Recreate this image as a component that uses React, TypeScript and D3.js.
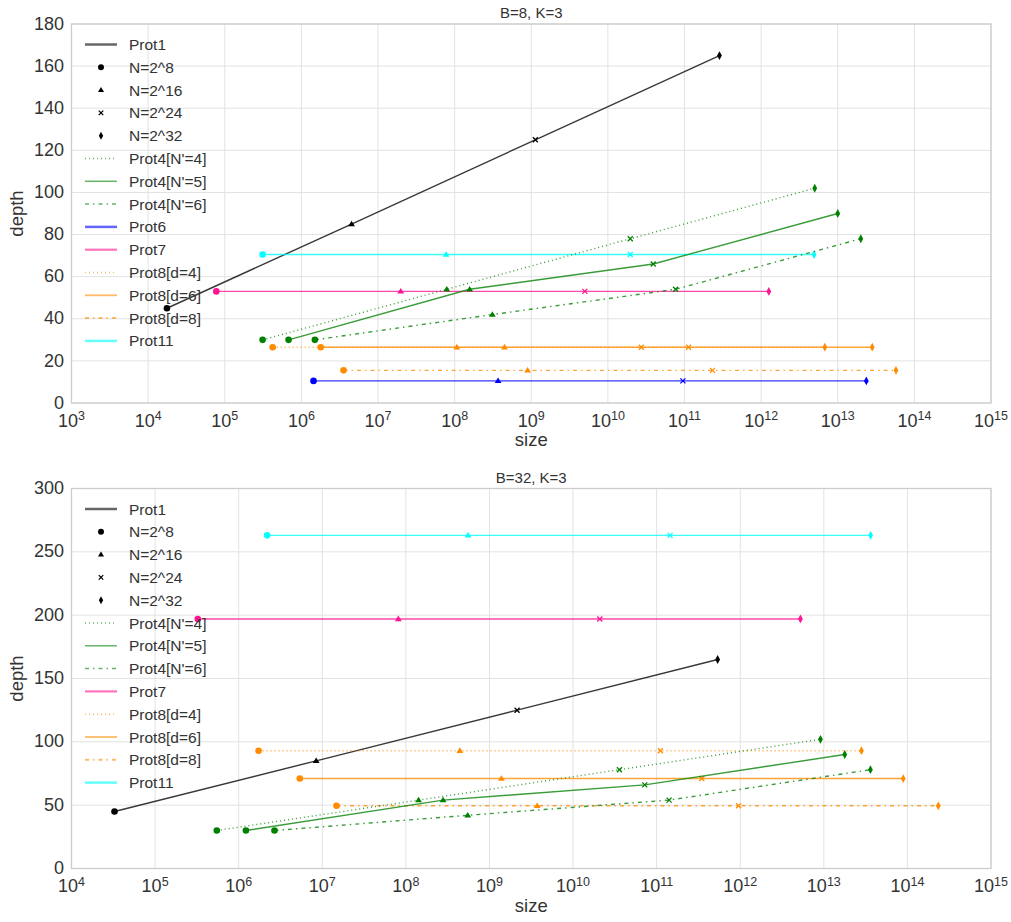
import React from 'react';
import * as d3 from 'd3';

const FONT = '"Liberation Sans", Arial, Helvetica, sans-serif';
const TEXT = '#333333';

// ---- B=8, K=3 ----
const b8Prot1Size = [1.76e4, 4.52e6, 1.13e9, 2.86e11];
const b8Prot1Depth = [45, 85, 125, 165];
const b8Prot4n4Size = [3.12e5, 7.89e7, 1.96e10, 5.01e12];
const b8Prot4n4Depth = [30, 54, 78, 102];
const b8Prot4n5Size = [6.81e5, 1.57e8, 3.91e10, 1.0e13];
const b8Prot4n5Depth = [30, 54, 66, 90];
const b8Prot4n6Size = [1.5e6, 3.11e8, 7.64e10, 2.0e13];
const b8Prot4n6Depth = [30, 42, 54, 78];
const b8Prot6Size = [1.44e6, 3.69e8, 9.53e10, 2.36e13];
const b8Prot6Depth = [10.5, 10.5, 10.5, 10.5];
const b8Prot7Size = [7.76e4, 1.98e7, 5.01e9, 1.26e12];
const b8Prot7Depth = [53, 53, 53, 53];
const b8Prot8d4Size = [4.22e5, 1.07e8, 2.73e10, 6.78e12];
const b8Prot8d4Depth = [26.5, 26.5, 26.5, 26.5];
const b8Prot8d6Size = [1.79e6, 4.48e8, 1.13e11, 2.82e13];
const b8Prot8d6Depth = [26.5, 26.5, 26.5, 26.5];
const b8Prot8d8Size = [3.55e6, 8.97e8, 2.32e11, 5.75e13];
const b8Prot8d8Depth = [15.5, 15.5, 15.5, 15.5];
const b8Prot11Size = [3.12e5, 7.74e7, 1.96e10, 4.9e12];
const b8Prot11Depth = [70.5, 70.5, 70.5, 70.5];

// ---- B=32, K=3 ----
const b32Prot1Size = [3.27e4, 8.45e6, 2.14e9, 5.37e11];
const b32Prot1Depth = [45, 85, 125, 165];
const b32Prot4n4Size = [5.47e5, 1.42e8, 3.59e10, 9.12e12];
const b32Prot4n4Depth = [30, 54, 78, 102];
const b32Prot4n5Size = [1.22e6, 2.79e8, 7.21e10, 1.78e13];
const b32Prot4n5Depth = [30, 54, 66, 90];
const b32Prot4n6Size = [2.68e6, 5.5e8, 1.41e11, 3.61e13];
const b32Prot4n6Depth = [30, 42, 54, 78];
const b32Prot7Size = [3.24e5, 8.13e7, 2.09e10, 5.25e12];
const b32Prot7Depth = [197, 197, 197, 197];
const b32Prot8d4Size = [1.73e6, 4.42e8, 1.11e11, 2.82e13];
const b32Prot8d4Depth = [93, 93, 93, 93];
const b32Prot8d6Size = [5.38e6, 1.39e9, 3.47e11, 8.91e13];
const b32Prot8d6Depth = [71, 71, 71, 71];
const b32Prot8d8Size = [1.48e7, 3.72e9, 9.55e11, 2.34e14];
const b32Prot8d8Depth = [49.5, 49.5, 49.5, 49.5];
const b32Prot11Size = [2.19e6, 5.55e8, 1.45e11, 3.63e13];
const b32Prot11Depth = [263, 263, 263, 263];

// ticks
const b8YTicks = [0, 20, 40, 60, 80, 100, 120, 140, 160, 180];
const b8XExps = [3, 4, 5, 6, 7, 8, 9, 10, 11, 12, 13, 14, 15];
const b32YTicks = [0, 50, 100, 150, 200, 250, 300];
const b32XExps = [4, 5, 6, 7, 8, 9, 10, 11, 12, 13, 14, 15];

const markerKinds = ['circle', 'triangle', 'x', 'diamond'];
const markerLabels = ['N=2^8', 'N=2^16', 'N=2^24', 'N=2^32'];

const DOT = '1,3';
const DASHDOT = '4,4,1.5,4';

const styles: Record<string, any> = {
  prot1: { label: 'Prot1', color: '#000000', dash: null, lw: 2.5 },
  prot4n4: { label: "Prot4[N'=4]", color: '#008000', dash: DOT, lw: 1.5 },
  prot4n5: { label: "Prot4[N'=5]", color: '#008000', dash: null, lw: 1.5 },
  prot4n6: { label: "Prot4[N'=6]", color: '#008000', dash: DASHDOT, lw: 1.5 },
  prot6: { label: 'Prot6', color: '#0000ff', dash: null, lw: 2.5 },
  prot7: { label: 'Prot7', color: '#ff1493', dash: null, lw: 2.2 },
  prot8d4: { label: 'Prot8[d=4]', color: '#ff8c00', dash: DOT, lw: 1.5 },
  prot8d6: { label: 'Prot8[d=6]', color: '#ff8c00', dash: null, lw: 1.8 },
  prot8d8: { label: 'Prot8[d=8]', color: '#ff8c00', dash: DASHDOT, lw: 2 },
  prot11: { label: 'Prot11', color: '#00ffff', dash: null, lw: 2.5 },
};

const b8Series = [
  { key: 'prot1', size: b8Prot1Size, depth: b8Prot1Depth },
  { key: 'prot11', size: b8Prot11Size, depth: b8Prot11Depth },
  { key: 'prot7', size: b8Prot7Size, depth: b8Prot7Depth },
  { key: 'prot4n4', size: b8Prot4n4Size, depth: b8Prot4n4Depth },
  { key: 'prot4n5', size: b8Prot4n5Size, depth: b8Prot4n5Depth },
  { key: 'prot4n6', size: b8Prot4n6Size, depth: b8Prot4n6Depth },
  { key: 'prot8d4', size: b8Prot8d4Size, depth: b8Prot8d4Depth },
  { key: 'prot8d6', size: b8Prot8d6Size, depth: b8Prot8d6Depth },
  { key: 'prot8d8', size: b8Prot8d8Size, depth: b8Prot8d8Depth },
  { key: 'prot6', size: b8Prot6Size, depth: b8Prot6Depth },
];
const b8Legend = ['prot1', 'N', 'prot4n4', 'prot4n5', 'prot4n6', 'prot6', 'prot7', 'prot8d4', 'prot8d6', 'prot8d8', 'prot11'];

const b32Series = [
  { key: 'prot11', size: b32Prot11Size, depth: b32Prot11Depth },
  { key: 'prot7', size: b32Prot7Size, depth: b32Prot7Depth },
  { key: 'prot1', size: b32Prot1Size, depth: b32Prot1Depth },
  { key: 'prot8d4', size: b32Prot8d4Size, depth: b32Prot8d4Depth },
  { key: 'prot8d6', size: b32Prot8d6Size, depth: b32Prot8d6Depth },
  { key: 'prot8d8', size: b32Prot8d8Size, depth: b32Prot8d8Depth },
  { key: 'prot4n4', size: b32Prot4n4Size, depth: b32Prot4n4Depth },
  { key: 'prot4n5', size: b32Prot4n5Size, depth: b32Prot4n5Depth },
  { key: 'prot4n6', size: b32Prot4n6Size, depth: b32Prot4n6Depth },
];
const b32Legend = ['prot1', 'N', 'prot4n4', 'prot4n5', 'prot4n6', 'prot7', 'prot8d4', 'prot8d6', 'prot8d8', 'prot11'];

const Marker = ({ kind, x, y, color, k = 1 }: any) => {
  if (kind === 'circle')
    return <circle cx={x} cy={y} r={3.3 * k} fill={color} />;
  if (kind === 'triangle') {
    const s = 3.4 * k;
    return <path d={`M${x},${y - s}L${x + s},${y + s * 0.65}L${x - s},${y + s * 0.65}Z`} fill={color} />;
  }
  if (kind === 'x') {
    const s = 2.5 * k;
    return (
      <path
        d={`M${x - s},${y - s}L${x + s},${y + s}M${x - s},${y + s}L${x + s},${y - s}`}
        stroke={color}
        strokeWidth={1.3}
      />
    );
  }
  const w = 2.4 * k;
  const h = 4.4 * k;
  return <path d={`M${x},${y - h}L${x + w},${y}L${x},${y + h}L${x - w},${y}Z`} fill={color} />;
};

const Panel = ({ title, top, bottom, xDomain, yMax, yTicks, xExps, series, legend }: any) => {
  const left = 71.5;
  const right = 991;
  const x = d3.scaleLog().domain(xDomain).range([left, right]);
  const y = d3.scaleLinear().domain([0, yMax]).range([bottom, top]);
  const line = d3
    .line<[number, number]>()
    .x((d) => x(d[0]))
    .y((d) => y(d[1]));

  // legend rows
  const rows: any[] = [];
  legend.forEach((k: string) => {
    if (k === 'N') markerKinds.forEach((m, i) => rows.push({ marker: m, label: markerLabels[i] }));
    else rows.push({ key: k, label: styles[k].label });
  });
  const legendTop = top + 20.5;
  const legendStep = 22.8;

  return (
    <g>
      {/* grid */}
      {xExps.map((e: number) => (
        <line key={'gx' + e} x1={x(10 ** e)} x2={x(10 ** e)} y1={top} y2={bottom} stroke="#e2e2e2" strokeWidth={1} />
      ))}
      {yTicks.map((t: number) => (
        <line key={'gy' + t} x1={left} x2={right} y1={y(t)} y2={y(t)} stroke="#e2e2e2" strokeWidth={1} />
      ))}

      {/* series */}
      {series.map((s: any) => {
        const st = styles[s.key];
        const pts = s.size.map((v: number, i: number) => [v, s.depth[i]] as [number, number]);
        return (
          <g key={s.key}>
            <path
              d={line(pts) || ''}
              fill="none"
              stroke={st.color}
              strokeOpacity={0.78}
              strokeWidth={1.4}
              strokeDasharray={st.dash || undefined}
            />
            {pts.map((p: [number, number], i: number) => (
              <Marker key={i} kind={markerKinds[i]} x={x(p[0])} y={y(p[1])} color={st.color} />
            ))}
          </g>
        );
      })}

      {/* frame */}
      <rect x={left} y={top} width={right - left} height={bottom - top} fill="none" stroke="#cccccc" strokeWidth={1.3} />

      {/* legend */}
      {rows.map((r, i) => {
        const ly = legendTop + i * legendStep;
        return (
          <g key={'lg' + i}>
            {r.key ? (
              <line
                x1={85}
                x2={117}
                y1={ly}
                y2={ly}
                stroke={styles[r.key].color}
                strokeOpacity={0.6}
                strokeWidth={styles[r.key].lw}
                strokeDasharray={styles[r.key].dash || undefined}
              />
            ) : (
              <Marker kind={r.marker} x={101} y={ly} color="#000" k={0.9} />
            )}
            <text x={129} y={ly} dy="0.36em" fontSize={15.5} fill={TEXT} fontFamily={FONT}>
              {r.label}
            </text>
          </g>
        );
      })}

      {/* y ticks */}
      {yTicks.map((t: number) => (
        <text key={'ty' + t} x={64} y={y(t) - 0.5} dy="0.34em" textAnchor="end" fontSize={18} fill={TEXT} fontFamily={FONT}>
          {t}
        </text>
      ))}
      {/* x ticks */}
      {xExps.map((e: number) => (
        <text key={'tx' + e} x={x(10 ** e)} y={bottom + 23.5} textAnchor="middle" fontSize={18} fill={TEXT} fontFamily={FONT}>
          <tspan>10</tspan>
          <tspan dy={-6.5} fontSize={12.5}>
            {e}
          </tspan>
        </text>
      ))}

      <text x={(left + right) / 2} y={top - 6} textAnchor="middle" fontSize={15} fill={TEXT} fontFamily={FONT}>
        {title}
      </text>
      <text x={(left + right) / 2} y={bottom + 43} textAnchor="middle" fontSize={18.5} fill={TEXT} fontFamily={FONT}>
        size
      </text>
      <text
        transform={`translate(23,${(top + bottom) / 2}) rotate(-90)`}
        textAnchor="middle"
        fontSize={18.5}
        fill={TEXT}
        fontFamily={FONT}
      >
        depth
      </text>
    </g>
  );
};

export default function App() {
  return (
    <svg
      width={1011}
      height={922}
      style={{ position: 'absolute', left: 0, top: 0, background: '#fff' }}
    >
      <Panel
        title="B=8, K=3"
        top={24}
        bottom={403}
        xDomain={[1e3, 1e15]}
        yMax={180}
        yTicks={b8YTicks}
        xExps={b8XExps}
        series={b8Series}
        legend={b8Legend}
      />
      <Panel
        title="B=32, K=3"
        top={488.5}
        bottom={868.5}
        xDomain={[1e4, 1e15]}
        yMax={300}
        yTicks={b32YTicks}
        xExps={b32XExps}
        series={b32Series}
        legend={b32Legend}
      />
    </svg>
  );
}
